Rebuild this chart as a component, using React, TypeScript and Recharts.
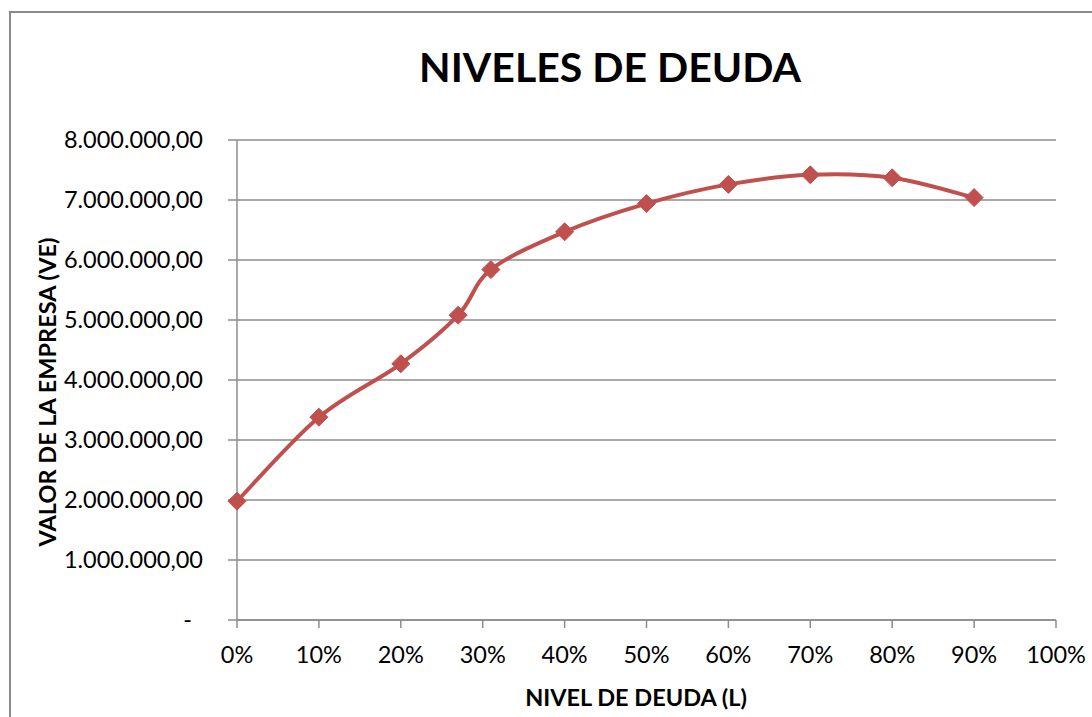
import React from 'react';
import { LineChart, Line, XAxis, YAxis, CartesianGrid } from 'recharts';

// nivel de deuda (L) y valor de la empresa (VE)
const debtLevels = [0, 0.1, 0.2, 0.27, 0.31, 0.4, 0.5, 0.6, 0.7, 0.8, 0.9];
const firmValues = [1980000, 3380000, 4270000, 5080000, 5840000, 6470000, 6940000, 7260000, 7420000, 7370000, 7040000];
const xTicks = [0, 0.1, 0.2, 0.3, 0.4, 0.5, 0.6, 0.7, 0.8, 0.9, 1];
const yTicks = [0, 1000000, 2000000, 3000000, 4000000, 5000000, 6000000, 7000000, 8000000];

const data = debtLevels.map((l, i) => ({ l, ve: firmValues[i] }));

const RED = '#C0504D';
const GRID = '#8c8c8c';
const FONT = 'Lato, "Open Sans", sans-serif';
const FS = 23.5;

const fmtMoney = (v: number) => {
    if (v === 0) return '-';
    const s = Math.round(v).toString().replace(/\B(?=(\d{3})+(?!\d))/g, '.');
    return s + ',00';
};

// Excel-like smoothing (Catmull-Rom through the points)
const excelCurve = (context: any) => {
    let pts: number[][] = [];
    return {
        areaStart() {},
        areaEnd() {},
        lineStart() { pts = []; },
        point(x: number, y: number) { pts.push([+x, +y]); },
        lineEnd() {
            if (!pts.length) return;
            context.moveTo(pts[0][0], pts[0][1]);
            for (let i = 0; i < pts.length - 1; i++) {
                const p0 = pts[i - 1] || pts[i];
                const p1 = pts[i];
                const p2 = pts[i + 1];
                const p3 = pts[i + 2] || p2;
                context.bezierCurveTo(
                    p1[0] + (p2[0] - p0[0]) / 6, p1[1] + (p2[1] - p0[1]) / 6,
                    p2[0] - (p3[0] - p1[0]) / 6, p2[1] - (p3[1] - p1[1]) / 6,
                    p2[0], p2[1]
                );
            }
        },
    };
};

const Diamond = (props: any) => {
    const { cx, cy } = props;
    if (cx == null || cy == null) return null;
    const r = 9;
    return <polygon points={`${cx},${cy - r} ${cx + r},${cy} ${cx},${cy + r} ${cx - r},${cy}`} fill={RED} stroke={RED} />;
};

const YTick = (props: any) => {
    const { x, y, payload } = props;
    const zero = payload.value === 0;
    return (
        <text x={zero ? x - 11 : x} y={y} dy="0.35em" textAnchor="end" fontSize={FS} fill="#000" fontFamily={FONT}>
            {fmtMoney(payload.value)}
        </text>
    );
};

export default function App() {
    return (
        <div style={{ position: 'fixed', left: 0, top: 0, width: 1092, height: 717, overflow: 'hidden', background: '#fff' }}>
            <div style={{ position: 'absolute', left: 9, top: 11, width: 1110, height: 730, border: '2px solid #8a8a8a' }} />
            <div style={{ position: 'absolute', left: 0, top: 0 }}>
                <LineChart width={1092} height={717} data={data} margin={{ top: 140, right: 36, bottom: 37, left: 37 }}>
                    <CartesianGrid vertical={false} stroke={GRID} strokeWidth={1.5} />
                    <XAxis
                        dataKey="l"
                        type="number"
                        domain={[0, 1]}
                        ticks={xTicks}
                        height={60}
                        tickFormatter={(v: number) => `${Math.round(v * 100)}%`}
                        stroke={GRID}
                        strokeWidth={1.5}
                        tickSize={8}
                        tickMargin={18}
                        tick={{ fontSize: FS, fill: '#000', fontFamily: FONT }}
                    />
                    <YAxis
                        type="number"
                        domain={[0, 8000000]}
                        ticks={yTicks}
                        width={200}
                        stroke={GRID}
                        strokeWidth={1.5}
                        tickSize={9}
                        tickMargin={25}
                        tick={<YTick />}
                    />
                    <Line
                        dataKey="ve"
                        type={excelCurve as any}
                        stroke={RED}
                        strokeWidth={4}
                        dot={<Diamond />}
                        activeDot={false}
                        isAnimationActive={false}
                    />
                </LineChart>
            </div>
            <div style={{ position: 'absolute', left: 0, width: 1220, top: 42, textAlign: 'center', fontFamily: FONT, fontWeight: 'bold', fontSize: 41, lineHeight: '50px' }}>
                NIVELES DE DEUDA
            </div>
            <div style={{ position: 'absolute', left: 47, top: 392, width: 0, height: 0 }}>
                <div style={{ position: 'absolute', transform: 'translate(-50%, -50%) rotate(-90deg)', whiteSpace: 'nowrap', fontFamily: FONT, fontWeight: 'bold', fontSize: FS }}>
                    VALOR DE LA EMPRESA (VE)
                </div>
            </div>
            <div style={{ position: 'absolute', left: 0, width: 1272, top: 682, textAlign: 'center', fontFamily: FONT, fontWeight: 'bold', fontSize: FS, lineHeight: '30px' }}>
                NIVEL DE DEUDA (L)
            </div>
        </div>
    );
}
